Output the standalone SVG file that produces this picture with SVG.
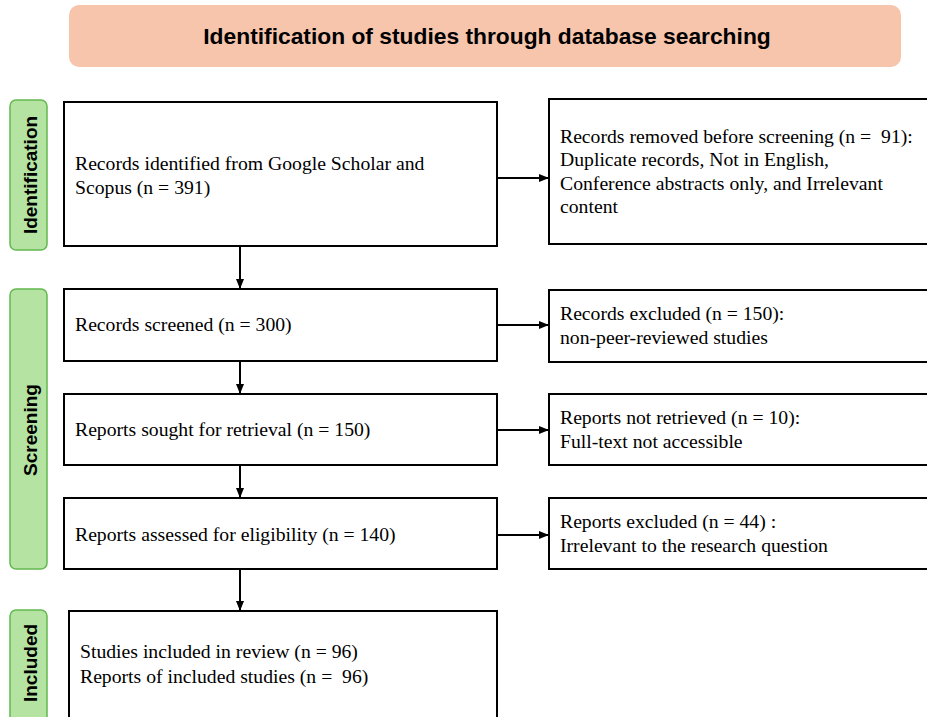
<svg xmlns="http://www.w3.org/2000/svg" width="927" height="717" viewBox="0 0 927 717">
<style>
.box{fill:#fff;stroke:#000;stroke-width:2}
.phase{fill:#B5E3A2;stroke:#63B94F;stroke-width:1.5}
.t{font-family:"Liberation Serif","Times New Roman",serif;font-size:19.7px;fill:#000;white-space:pre}
.p{font-family:"Liberation Sans",Arial,sans-serif;font-size:19px;font-weight:bold;fill:#000}
.h{font-family:"Liberation Sans",Arial,sans-serif;font-size:22.8px;font-weight:bold;fill:#000}
.c{stroke:#000;stroke-width:2;fill:none}
</style>
<defs>
<marker id="ah" markerUnits="userSpaceOnUse" markerWidth="10" markerHeight="10" viewBox="0 0 10 10" refX="10" refY="5" orient="auto">
<path d="M0,1 L10,5 L0,9 Z" fill="#000"/>
</marker>
</defs>
<rect width="927" height="717" fill="#fff"/>

<g id="header">
<rect x="69" y="5" width="832" height="62" rx="10" fill="#F6C5AC"/>
<text class="h" x="487" y="44" text-anchor="middle">Identification of studies through database searching</text>
</g>

<g id="phase-identification">
<rect class="phase" x="10" y="100" width="37" height="150" rx="6"/>
<text class="p" transform="translate(36.5,175) rotate(-90)" text-anchor="middle">Identification</text>
</g>
<g id="phase-screening">
<rect class="phase" x="10" y="289" width="37" height="280" rx="6"/>
<text class="p" transform="translate(36.5,430) rotate(-90)" text-anchor="middle">Screening</text>
</g>
<g id="phase-included">
<rect class="phase" x="10" y="610" width="37" height="115" rx="6"/>
<text class="p" transform="translate(36.5,663) rotate(-90)" text-anchor="middle">Included</text>
</g>

<g id="identified">
<rect class="box" x="64" y="102" width="433" height="144"/>
<text class="t" x="75" y="170">Records identified from Google Scholar and</text>
<text class="t" x="75" y="194">Scopus (n = 391)</text>
</g>
<g id="removed">
<rect class="box" x="549" y="99" width="382" height="145"/>
<text class="t" x="560" y="143">Records removed before screening (n =  91):</text>
<text class="t" x="560" y="166">Duplicate records, Not in English,</text>
<text class="t" x="560" y="190">Conference abstracts only, and Irrelevant</text>
<text class="t" x="560" y="213">content</text>
</g>
<g id="screened">
<rect class="box" x="64" y="289" width="433" height="72"/>
<text class="t" x="75" y="331">Records screened (n = 300)</text>
</g>
<g id="excluded1">
<rect class="box" x="549" y="290" width="382" height="72"/>
<text class="t" x="560" y="320">Records excluded (n = 150):</text>
<text class="t" x="560" y="344">non-peer-reviewed studies</text>
</g>
<g id="sought">
<rect class="box" x="64" y="394" width="433" height="71"/>
<text class="t" x="75" y="436">Reports sought for retrieval (n = 150)</text>
</g>
<g id="notretrieved">
<rect class="box" x="549" y="394" width="382" height="71"/>
<text class="t" x="560" y="424">Reports not retrieved (n = 10):</text>
<text class="t" x="560" y="448">Full-text not accessible</text>
</g>
<g id="assessed">
<rect class="box" x="64" y="498" width="433" height="71"/>
<text class="t" x="75" y="541">Reports assessed for eligibility (n = 140)</text>
</g>
<g id="excluded2">
<rect class="box" x="549" y="498" width="382" height="71"/>
<text class="t" x="560" y="528">Reports excluded (n = 44) :</text>
<text class="t" x="560" y="552">Irrelevant to the research question</text>
</g>
<g id="included">
<rect class="box" x="69" y="611" width="428" height="120"/>
<text class="t" x="80" y="658">Studies included in review (n = 96)</text>
<text class="t" x="80" y="683">Reports of included studies (n =  96)</text>
</g>

<g id="connectors">
<line class="c" x1="240" y1="246" x2="240" y2="289" marker-end="url(#ah)"/>
<line class="c" x1="240" y1="361" x2="240" y2="394" marker-end="url(#ah)"/>
<line class="c" x1="240" y1="465" x2="240" y2="498" marker-end="url(#ah)"/>
<line class="c" x1="240" y1="569" x2="240" y2="611" marker-end="url(#ah)"/>
<line class="c" x1="497" y1="178" x2="549" y2="178" marker-end="url(#ah)"/>
<line class="c" x1="497" y1="325" x2="549" y2="325" marker-end="url(#ah)"/>
<line class="c" x1="497" y1="430" x2="549" y2="430" marker-end="url(#ah)"/>
<line class="c" x1="497" y1="535" x2="549" y2="535" marker-end="url(#ah)"/>
</g>
</svg>
